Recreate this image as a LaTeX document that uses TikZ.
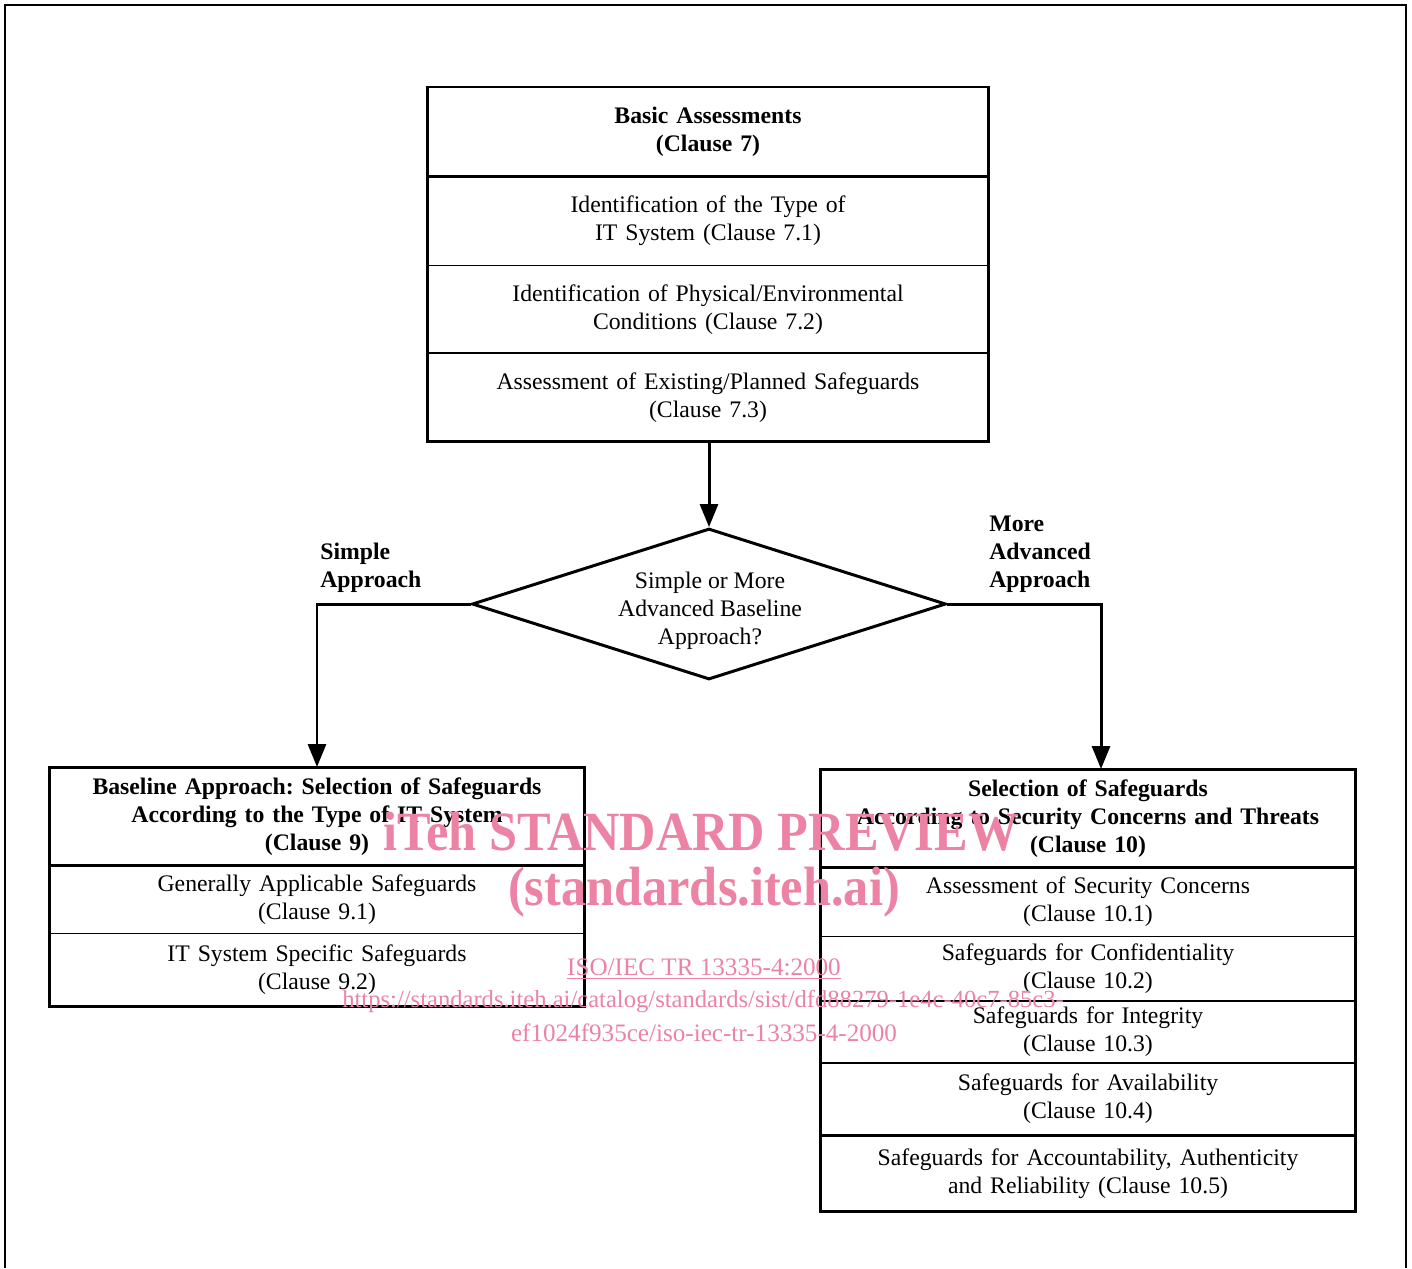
\documentclass[tikz,border=0pt]{standalone}
\usepackage{fontspec}
\setmainfont{Liberation Serif}
\usetikzlibrary{positioning,shapes.geometric,arrows.meta}
\definecolor{wmpink}{RGB}{236,130,164}
\tikzset{
	txt/.style={font=\fontsize{13.5}{15.9}\selectfont},
	bf/.style={font=\bfseries\fontsize{13.5}{15.9}\selectfont},
	cell/.style 2 args={txt, text width=#1, minimum height=#2, align=center, inner sep=0pt},
	frame/.style={line width=1.7pt},
	thickrule/.style={line width=1.7pt},
	rule/.style={line width=0.85pt},
	conn/.style={line width=1.7pt, -{Triangle[length=0.46cm,width=0.36cm]}},
	choice/.style={diamond, draw, line width=1.7pt, inner sep=0pt, minimum width=9.48cm, minimum height=3.02cm},
	lab/.style={bf, align=left, inner sep=0pt, anchor=south west},
	wm/.style={text=wmpink, inner sep=0pt}
}

\begin{document}
\frenchspacing
\begin{tikzpicture}[x=0.02cm, y=-0.02cm]
	\useasboundingbox (0,0) rectangle (1412,1268);
	\draw[line width=0.85pt] (5,1268) -- (5,5) -- (1406,5) -- (1406,1268);

	% basic assessments
	\node[cell={11.22cm}{1.78cm}, anchor=north, bf] (t0) at (708,87) {Basic Assessments\\(Clause 7)};
	\node[cell={11.22cm}{1.76cm}, below=0pt of t0] (t1) {Identification of the Type of\\IT System (Clause 7.1)};
	\node[cell={11.22cm}{1.74cm}, below=0pt of t1] (t2) {Identification of Physical/Environmental\\Conditions (Clause 7.2)};
	\node[cell={11.22cm}{1.76cm}, below=0pt of t2] (t3) {Assessment of Existing/Planned Safeguards\\(Clause 7.3)};
	\draw[frame] (t0.north west) rectangle (t3.south east);
	\draw[thickrule] (t0.south west) -- (t0.south east);
	\draw[rule] (t1.south west) -- (t1.south east);
	\draw[rule] (t2.south west) -- (t2.south east);

	% decision
	\node[choice] (dia) at (709,604) {};
	\node[txt, align=center, inner sep=0pt] (diatxt) at (710,611) {Simple or More\\Advanced Baseline\\Approach?};
	\draw[conn] (t3.south -| dia.north) -- (dia.north);
	\node[lab] (simple) at (320,593) {Simple\\Approach};
	\node[lab] (more) at (989,593) {More\\Advanced\\Approach};

	% baseline approach
	\node[cell={10.68cm}{1.96cm}, anchor=north, bf] (l0) at (317,767) {Baseline Approach: Selection of Safeguards\\According to the Type of IT System\\(Clause 9)};
	\node[cell={10.68cm}{1.34cm}, below=0pt of l0] (l1) {Generally Applicable Safeguards\\(Clause 9.1)};
	\node[cell={10.68cm}{1.44cm}, below=0pt of l1] (l2) {IT System Specific Safeguards\\(Clause 9.2)};
	\draw[frame] (l0.north west) rectangle (l2.south east);
	\draw[thickrule] (l0.south west) -- (l0.south east);
	\draw[rule] ([xshift=-1pt]l1.south west) -- ([xshift=1pt]l1.south east);

	% security concerns and threats
	\node[cell={10.68cm}{1.96cm}, anchor=north, bf] (r0) at (1088,769) {Selection of Safeguards\\According to Security Concerns and Threats\\(Clause 10)};
	\node[cell={10.68cm}{1.36cm}, below=0pt of r0] (r1) {Assessment of Security Concerns\\(Clause 10.1)};
	\node[cell={10.68cm}{1.28cm}, below=0pt of r1] (r2) {Safeguards for Confidentiality\\(Clause 10.2)};
	\node[cell={10.68cm}{1.22cm}, below=0pt of r2] (r3) {Safeguards for Integrity\\(Clause 10.3)};
	\node[cell={10.68cm}{1.44cm}, below=0pt of r3] (r4) {Safeguards for Availability\\(Clause 10.4)};
	\node[cell={10.68cm}{1.5cm}, below=0pt of r4] (r5) {Safeguards for Accountability, Authenticity\\and Reliability (Clause 10.5)};
	\draw[frame] (r0.north west) rectangle (r5.south east);
	\draw[thickrule] (r0.south west) -- (r0.south east);
	\draw[rule] ([xshift=-1pt]r1.south west) -- ([xshift=1pt]r1.south east);
	\draw[rule] (r2.south west) -- ([xshift=1pt]r2.south east);
	\draw[rule] (r3.south west) -- (r3.south east);
	\draw[line width=1.2pt] (r4.south west) -- ([xshift=1pt]r4.south east);

	% branches
	\draw[conn] (dia.west) -| (l0.north);
	\draw[conn] (dia.east) -| ([xshift=0.26cm]r0.north);

	% watermark
	\node[wm, xscale=0.91, font=\bfseries\fontsize{31.5}{31.5}\selectfont] (wm1) at (701,832) {iTeh STANDARD PREVIEW};
	\node[wm, xscale=0.91, font=\bfseries\fontsize{31.5}{31.5}\selectfont] (wm2) at (704,892) {(standards.iteh.ai)};
	\node[wm, font=\fontsize{14.3}{16}\selectfont] (wm3) at (704,969) {\underline{ISO/IEC TR 13335-4:2000}};
	\node[wm, font=\fontsize{14}{16}\selectfont] (wm4) at (703,1001) {https://standards.iteh.ai/catalog/standards/sist/dfd88279-1e4c-40c7-85c3-};
	\node[wm, font=\fontsize{14.3}{16}\selectfont] (wm5) at (704,1033) {ef1024f935ce/iso-iec-tr-13335-4-2000};
\end{tikzpicture}
\end{document}
